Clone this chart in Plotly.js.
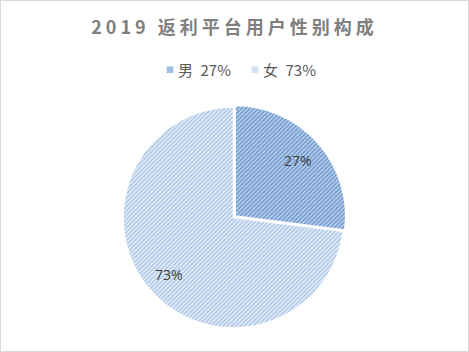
<!DOCTYPE html>
<html>
<head>
<meta charset="utf-8">
<script src="https://cdn.plot.ly/plotly-3.0.1.min.js"></script>
<style>
html,body{margin:0;padding:0;background:#fff;}
#chart{width:469px;height:352px;box-sizing:border-box;border:1px solid #d9d9d9;}
</style>
</head>
<body>
<div id="chart"></div>
<script>
var categories = ["男", "女"];
var values = [27, 73];
var titleText = "2019 返利平台用户性别构成";

var total = values.reduce(function(a,b){return a+b;},0);
var pcts = values.map(function(v){return Math.round(v/total*100);});
var legendLabels = categories.map(function(c,i){return c + "\u2002" + pcts[i] + "%";});

// geometry of the pie (pixels in the 467x350 plot area)
var W = 467, H = 350;
var cx = 232.5, cy = 216.5, rad = 110.5, pullMax = 0.02;
var half = rad * (1 + pullMax);
var domX = [(cx - half)/W, (cx + half)/W];
var domY = [1 - (cy + half)/H, 1 - (cy - half)/H];

// label annotations placed at each slice's mid-angle
var annotations = [];
var cum = 0;
values.forEach(function(v, i){
  var mid = (cum + v/2) / total * 2 * Math.PI;
  cum += v;
  var px = cx + 0.78 * rad * Math.sin(mid);
  var py = cy - 0.78 * rad * Math.cos(mid);
  annotations.push({
    xref: "paper", yref: "paper", x: px / W, y: 1 - py / H,
    text: pcts[i] + "%", showarrow: false,
    xanchor: "center", yanchor: "middle",
    font: {family: "Open Sans, DejaVu Sans, sans-serif", size: 14, color: "#404040"}
  });
});

var trace = {
  type: "pie",
  labels: legendLabels,
  values: values,
  sort: false,
  direction: "clockwise",
  rotation: 0,
  pull: [pullMax, 0],
  textinfo: "none",
  hoverinfo: "none",
  marker: {
    colors: ["#bcd1eb", "#e6eef8"],
    line: {color: "#ffffff", width: 1.5},
    pattern: {
      shape: "/",
      fgcolor: ["#6694cc", "#a8c3e6"],
      bgcolor: ["#bcd1eb", "#e6eef8"],
      size: 3,
      solidity: 0.45
    }
  },
  domain: {x: domX, y: domY}
};

var layout = {
  width: W, height: H,
  margin: {l: 0, r: 0, t: 0, b: 0},
  paper_bgcolor: "#ffffff",
  annotations: annotations,
  title: {
    text: "<b>" + titleText + "</b>",
    font: {family: "Noto Sans CJK SC, sans-serif", size: 18, color: "#808080"},
    x: 0.5, xanchor: "center",
    y: 1 - 27/H, yanchor: "middle", yref: "container"
  },
  showlegend: true,
  legend: {
    orientation: "h",
    x: 137/W, xanchor: "left",
    y: 1 - 69/H, yanchor: "middle",
    entrywidth: 40, entrywidthmode: "pixels",
    bgcolor: "rgba(0,0,0,0)",
    font: {family: "Noto Sans CJK SC, sans-serif", size: 15, color: "#595959"}
  }
};

Plotly.newPlot("chart", [trace], layout, {staticPlot: true}).then(function(){
  var t = document.querySelector(".gtitle");
  if (t) { t.style.letterSpacing = "4px"; }
  document.querySelectorAll(".legend .scrollbox").forEach(function(s){
    s.removeAttribute("clip-path");
  });
  document.querySelectorAll(".legendpoints path").forEach(function(p){
    p.setAttribute("transform", "translate(32,0) scale(0.55)");
    p.style.strokeWidth = "0px";
  });
});
</script>
</body>
</html>
